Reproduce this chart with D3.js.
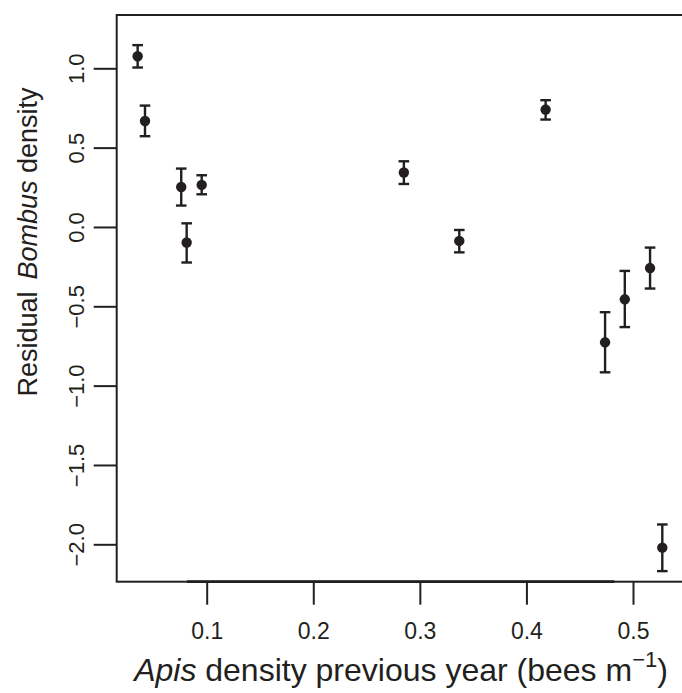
<!DOCTYPE html>
<html>
<head>
<meta charset="utf-8">
<script src="https://cdn.jsdelivr.net/npm/d3@7"></script>
<style>
  html, body { margin: 0; padding: 0; background: #ffffff; }
  svg { display: block; font-family: "Liberation Sans", Arial, Helvetica, sans-serif; }
</style>
</head>
<body>
<svg id="chart" width="682" height="693"></svg>
<script>
// ---- data ----
const apisDensity = [0.0352, 0.0421, 0.0761, 0.0953, 0.0812, 0.285, 0.337, 0.418, 0.4738, 0.4923, 0.516, 0.5275];
const residualBombus = [1.076, 0.668, 0.252, 0.265, -0.098, 0.343, -0.088, 0.740, -0.727, -0.456, -0.259, -2.021];
const errUpper = [1.146, 0.765, 0.368, 0.326, 0.023, 0.414, -0.019, 0.799, -0.537, -0.277, -0.130, -1.875];
const errLower = [1.005, 0.572, 0.135, 0.206, -0.224, 0.271, -0.160, 0.677, -0.916, -0.631, -0.388, -2.169];
const xTicks = [0.1, 0.2, 0.3, 0.4, 0.5];
const yTicks = [-2.0, -1.5, -1.0, -0.5, 0.0, 0.5, 1.0];

const ink = "#231f20";
const svg = d3.select("#chart");

const x = d3.scaleLinear().domain([0.1, 0.5]).range([206.7, 633]);
const y = d3.scaleLinear().domain([-2, 1]).range([544.3, 68.3]);

const box = { left: 116.7, top: 15, bottom: 581.7, right: 700 };

// plot box
svg.append("rect")
  .attr("x", box.left).attr("y", box.top)
  .attr("width", box.right - box.left).attr("height", box.bottom - box.top)
  .attr("fill", "none").attr("stroke", ink).attr("stroke-width", 2);

// slightly heavier axis segment on the bottom edge
svg.append("line")
  .attr("x1", x(0.0815)).attr("x2", x(0.4824))
  .attr("y1", box.bottom).attr("y2", box.bottom)
  .attr("stroke", ink).attr("stroke-width", 2.8);

const fmt = v => d3.format(".1f")(v).replace("-", "\u2212");

// x axis
const xAxis = svg.append("g")
  .attr("transform", `translate(0,${box.bottom})`)
  .call(d3.axisBottom(x).tickValues(xTicks).tickSize(23).tickSizeOuter(0).tickFormat(fmt));
xAxis.select(".domain").remove();
xAxis.selectAll(".tick line").attr("stroke", ink).attr("stroke-width", 2);
xAxis.selectAll(".tick text")
  .attr("y", 57).attr("dy", 0)
  .attr("fill", ink)
  .style("font-size", "23px")
  .style("font-family", "'Liberation Sans', Arial, sans-serif");

// y axis
const yAxis = svg.append("g")
  .attr("transform", `translate(${box.left},0)`)
  .call(d3.axisLeft(y).tickValues(yTicks).tickSize(23).tickSizeOuter(0).tickFormat(fmt));
yAxis.select(".domain").remove();
yAxis.selectAll(".tick line").attr("stroke", ink).attr("stroke-width", 2);
yAxis.selectAll(".tick text")
  .attr("x", 0).attr("y", 0).attr("dy", 0)
  .attr("transform", "translate(-33,0) rotate(-90)")
  .attr("text-anchor", "middle")
  .attr("fill", ink)
  .style("font-size", "22px")
  .style("font-family", "'Liberation Sans', Arial, sans-serif");

// error bars
const capHalf = 5.3;
const bars = svg.append("g").attr("stroke", ink).attr("stroke-width", 2.4);
apisDensity.forEach((a, i) => {
  const cx = x(a);
  bars.append("line").attr("x1", cx).attr("x2", cx).attr("y1", y(errUpper[i])).attr("y2", y(errLower[i]));
  bars.append("line").attr("x1", cx - capHalf).attr("x2", cx + capHalf).attr("y1", y(errUpper[i])).attr("y2", y(errUpper[i]));
  bars.append("line").attr("x1", cx - capHalf).attr("x2", cx + capHalf).attr("y1", y(errLower[i])).attr("y2", y(errLower[i]));
});

// points
svg.append("g").selectAll("circle")
  .data(apisDensity.map((a, i) => [a, residualBombus[i]]))
  .join("circle")
  .attr("cx", d => x(d[0])).attr("cy", d => y(d[1]))
  .attr("r", 5.2).attr("fill", ink);

// y title
const yt = svg.append("text")
  .attr("transform", "translate(37,242) rotate(-90)")
  .attr("text-anchor", "middle")
  .attr("fill", ink)
  .style("font-size", "27px");
yt.append("tspan").text("Residual");
yt.append("tspan").attr("dx", 12).style("font-style", "italic").text("Bombus");
yt.append("tspan").text(" density");

// x title
const xt = svg.append("text")
  .attr("x", 401).attr("y", 681)
  .attr("text-anchor", "middle")
  .attr("fill", ink)
  .style("font-size", "32px");
xt.append("tspan").style("font-style", "italic").text("Apis");
xt.append("tspan").text(" density previous year (bees m");
xt.append("tspan").attr("dy", -14).style("font-size", "22px").text("\u22121");
xt.append("tspan").attr("dy", 14).text(")");
</script>
</body>
</html>
